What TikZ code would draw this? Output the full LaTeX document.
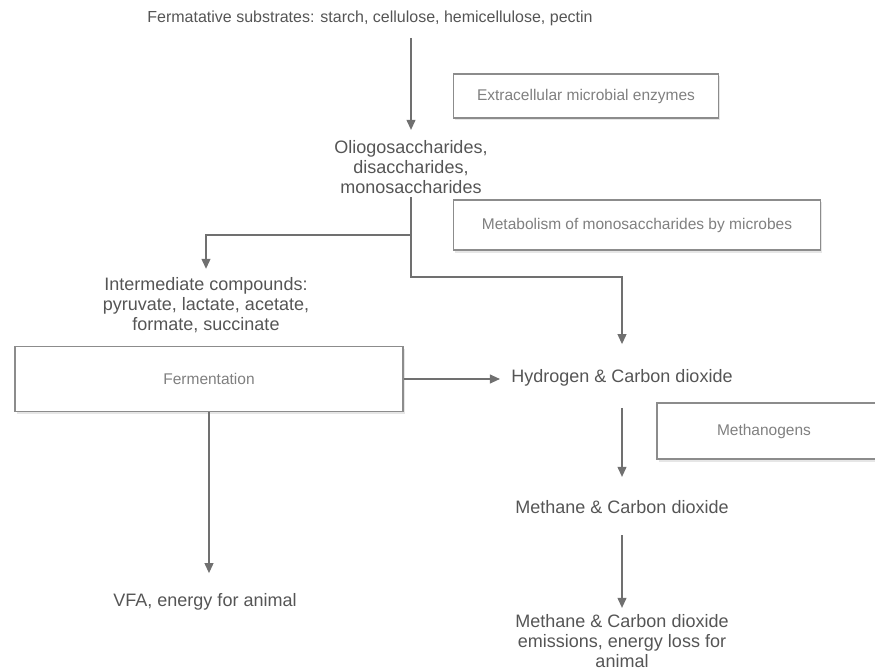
\documentclass[tikz,border=0pt]{standalone}
\usepackage{fontspec}
\setmainfont{Liberation Sans}
\usetikzlibrary{arrows.meta,shadows}

\definecolor{inkgray}{HTML}{555555}
\definecolor{softgray}{HTML}{808080}
\definecolor{linegray}{HTML}{707070}
\definecolor{framegray}{HTML}{8C8C8C}

\tikzset{
  stage/.style={text=inkgray, align=center, font=\fontsize{18}{20}\selectfont},
  actor/.style={draw=framegray, line width=1.2pt, fill=white, text=softgray,
    font=\fontsize{15.5}{18}\selectfont,
    drop shadow={opacity=0.2, shadow xshift=1.5pt, shadow yshift=-2.5pt}},
  flow/.style={-{Stealth[length=10pt, width=9pt, inset=0pt]}, draw=linegray, line width=1.1pt}
}

\begin{document}
\begin{tikzpicture}[x=1pt, y=-1pt]
        \useasboundingbox (0,0) rectangle (875,671);

        % products along the pathway
        \node[stage, font=\fontsize{16}{20}\selectfont] (sub) at (370,18) {Fermatative substrates: starch, cellulose, hemicellulose, pectin};
        \node[stage] (oligo) at (411,167) {Oliogosaccharides,\\ disaccharides,\\ monosaccharides};
        \node[stage] (inter) at (206,305) {Intermediate compounds:\\ pyruvate, lactate, acetate,\\ formate, succinate};
        \node[stage] (hyd) at (622,378) {Hydrogen \& Carbon dioxide};
        \node[stage] (meth) at (622,507) {Methane \& Carbon dioxide};
        \node[stage] (emis) at (622,641) {Methane \& Carbon dioxide\\ emissions, energy loss for\\ animal};
        \node[stage] (vfa) at (205,602) {VFA, energy for animal};

        % agents
        \node[actor, minimum width=265, minimum height=44] (enz) at (586,96) {Extracellular microbial enzymes};
        \node[actor, minimum width=367, minimum height=50] (metab) at (637,225) {Metabolism of monosaccharides by microbes};
        \node[actor, minimum width=388, minimum height=65] (ferm) at (209,379) {Fermentation};
        \node[actor, minimum height=56, text width=130, inner xsep=60, align=left] (mgen) at (782,431) {Methanogens};

        \coordinate (split) at (411,235);
        \coordinate (bend) at (411,277);

        \draw[flow, shorten <=9pt, shorten >=7pt] (sub.south -| oligo.north) -- (oligo.north);
        \draw[flow, shorten >=5pt] (oligo.south) -- (split) -| (inter.north);
        \draw[flow, shorten >=22pt] (split) -- (bend) -| (hyd.north);
        \draw[flow, shorten >=8pt] (ferm.east) -- (ferm.east -| hyd.west);
        \draw[flow, shorten <=18pt, shorten >=20pt] (hyd.south) -- (meth.north);
        \draw[flow, shorten <=18pt, shorten >=3pt] (meth.south) -- (emis.north);
        \draw[flow, shorten >=17pt] (ferm.south) -- (ferm.south |- vfa.north);
\end{tikzpicture}
\end{document}
